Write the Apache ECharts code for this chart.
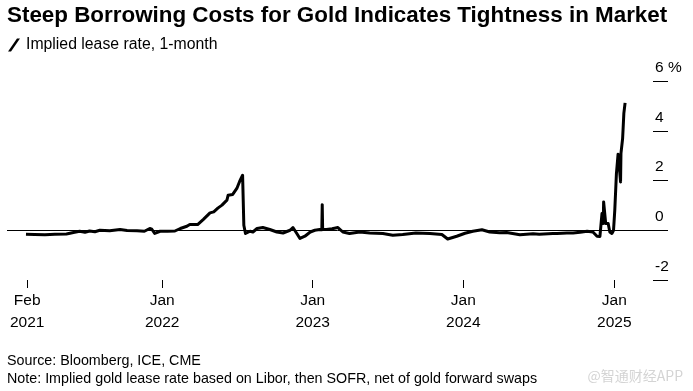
<!DOCTYPE html>
<html>
<head>
<meta charset="utf-8">
<script src="https://cdn.jsdelivr.net/npm/echarts@6/dist/echarts.min.js"></script>
<style>
html,body{margin:0;padding:0;background:#fff;}
#chart{width:693px;height:391px;}
</style>
</head>
<body>
<div id="chart"></div>
<script>
const dates = ['2021-02-05','2021-02-26','2021-03-23','2021-04-16','2021-05-14','2021-06-03','2021-06-15','2021-06-28','2021-07-09','2021-07-22','2021-08-03','2021-08-27','2021-09-21','2021-10-08','2021-11-01','2021-11-19','2021-12-02','2021-12-07','2021-12-14','2021-12-27','2022-01-14','2022-02-01','2022-02-14','2022-03-02','2022-03-09','2022-03-28','2022-04-11','2022-04-27','2022-05-06','2022-05-16','2022-05-26','2022-06-07','2022-06-10','2022-06-21','2022-07-01','2022-07-08','2022-07-15','2022-07-18','2022-07-22','2022-08-02','2022-08-09','2022-08-19','2022-09-02','2022-09-19','2022-10-06','2022-10-21','2022-11-07','2022-11-14','2022-11-23','2022-12-01','2022-12-13','2022-12-26','2023-01-06','2023-01-18','2023-01-23','2023-01-24','2023-01-25','2023-02-03','2023-02-17','2023-03-03','2023-03-15','2023-03-31','2023-04-25','2023-05-19','2023-06-20','2023-07-14','2023-08-07','2023-09-08','2023-10-12','2023-11-10','2023-11-24','2023-12-16','2024-01-05','2024-01-24','2024-02-15','2024-03-05','2024-03-29','2024-04-15','2024-05-17','2024-06-18','2024-07-03','2024-08-05','2024-08-15','2024-09-08','2024-09-23','2024-10-10','2024-10-27','2024-11-10','2024-11-20','2024-11-27','2024-12-02','2024-12-05','2024-12-06','2024-12-11','2024-12-17','2024-12-21','2024-12-26','2024-12-30','2025-01-02','2025-01-06','2025-01-10','2025-01-13','2025-01-16','2025-01-17','2025-01-21','2025-01-22','2025-01-24','2025-01-27'];
const leaseRate = [-0.16,-0.17,-0.18,-0.16,-0.15,-0.08,-0.04,-0.08,-0.03,-0.06,0.0,-0.02,0.03,-0.01,-0.02,-0.04,0.07,0.04,-0.13,-0.04,-0.04,-0.03,0.07,0.16,0.23,0.23,0.44,0.70,0.74,0.89,1.01,1.21,1.41,1.44,1.68,1.97,2.21,0.20,-0.13,-0.04,-0.07,0.07,0.11,0.03,-0.07,-0.11,0.0,0.11,-0.12,-0.33,-0.24,-0.07,0.0,0.03,0.02,1.03,0.04,0.03,0.06,0.11,-0.07,-0.13,-0.07,-0.11,-0.13,-0.20,-0.17,-0.11,-0.13,-0.17,-0.35,-0.24,-0.12,-0.04,0.02,-0.07,-0.10,-0.09,-0.18,-0.14,-0.16,-0.13,-0.13,-0.11,-0.11,-0.08,-0.04,-0.07,-0.24,-0.25,0.67,0.27,1.14,0.27,0.27,-0.07,-0.13,0.0,0.80,2.28,3.06,2.55,1.94,3.09,3.69,4.02,4.70,5.12];
const tickDates = ['2021-02-08','2022-01-01','2023-01-01','2024-01-01','2025-01-01'];
const tickLabels = ['Feb\n2021','Jan\n2022','Jan\n2023','Jan\n2024','Jan\n2025'];
const yTicks = [-2, 0, 2, 4, 6];
const yTickLabels = ['-2', '0', '2', '4', '6 %'];
const seriesName = 'Implied lease rate, 1-month';
const titleText = 'Steep Borrowing Costs for Gold Indicates Tightness in Market';
const sourceText = 'Source: Bloomberg, ICE, CME';
const noteText = 'Note: Implied gold lease rate based on Libor, then SOFR, net of gold forward swaps';
const watermark = '@智通财经APP';

const FONT = "'Liberation Sans', Arial, sans-serif";
const toTime = d => Date.UTC(+d.slice(0, 4), +d.slice(5, 7) - 1, +d.slice(8, 10));
const tickTimes = tickDates.map(toTime);
const chart = echarts.init(document.getElementById('chart'), null, {renderer: 'canvas'});
chart.setOption({
  animation: false,
  textStyle: {fontFamily: FONT, color: '#000'},
  title: [
    {text: titleText, left: 7, top: 5, padding: 0,
     textStyle: {fontFamily: FONT, fontSize: 22.4, fontWeight: 'bold', color: '#000'}},
    {text: sourceText, left: 7, top: 354, padding: 0,
     textStyle: {fontFamily: FONT, fontSize: 14.3, fontWeight: 'normal', color: '#000'}},
    {text: noteText, left: 7, top: 372, padding: 0,
     textStyle: {fontFamily: FONT, fontSize: 14.3, fontWeight: 'normal', color: '#000'}},
    {text: watermark, right: 10, top: 369, padding: 0,
     textStyle: {fontFamily: "'Noto Sans CJK SC', sans-serif", fontSize: 14, fontWeight: 'normal', color: '#d4d4d4'}}
  ],
  legend: {
    left: 8, top: 37, padding: 0,
    itemWidth: 14, itemHeight: 13,
    data: [{name: seriesName, icon: 'path://M9,0 L12,0 L3,13 L0,13 Z'}],
    itemStyle: {color: '#000'},
    textStyle: {fontFamily: FONT, fontSize: 15.8, color: '#000'}
  },
  grid: {left: 7, right: 25, top: 81, bottom: 111, containLabel: false},
  xAxis: {
    type: 'value',
    min: toTime('2020-12-21'),
    max: toTime('2025-05-11'),
    axisLine: {show: false, onZero: false},
    axisTick: {show: true, customValues: tickTimes, length: 8, lineStyle: {color: '#000', width: 1}},
    axisLabel: {
      customValues: tickTimes,
      margin: 10,
      fontFamily: FONT, fontSize: 15.5, lineHeight: 22, color: '#000',
      formatter: function (v) {
        let best = 0, bd = Infinity;
        tickTimes.forEach((t, i) => { const d = Math.abs(t - v); if (d < bd) { bd = d; best = i; } });
        return tickLabels[best];
      }
    },
    splitLine: {show: false}
  },
  yAxis: {
    type: 'value',
    position: 'right',
    min: -2, max: 6, interval: 2,
    axisLine: {show: false},
    axisTick: {show: true, inside: true, length: 15, lineStyle: {color: '#000', width: 1}},
    axisLabel: {
      margin: -13,
      fontFamily: FONT, fontSize: 15.5, color: '#000',
      verticalAlign: 'bottom',
      lineHeight: 27,
      formatter: function (v) { const i = yTicks.indexOf(v); return i >= 0 ? yTickLabels[i] : String(v); }
    },
    splitLine: {show: false}
  },
  series: [{
    name: seriesName,
    type: 'line',
    data: dates.map((d, i) => [toTime(d), leaseRate[i]]),
    showSymbol: false,
    symbol: 'none',
    lineStyle: {color: '#000', width: 3, join: 'round'},
    itemStyle: {color: '#000'},
    markLine: {
      silent: true, symbol: 'none', label: {show: false},
      lineStyle: {color: '#000', width: 1, type: 'solid'},
      data: [{yAxis: 0}]
    }
  }]
});
</script>
</body>
</html>
